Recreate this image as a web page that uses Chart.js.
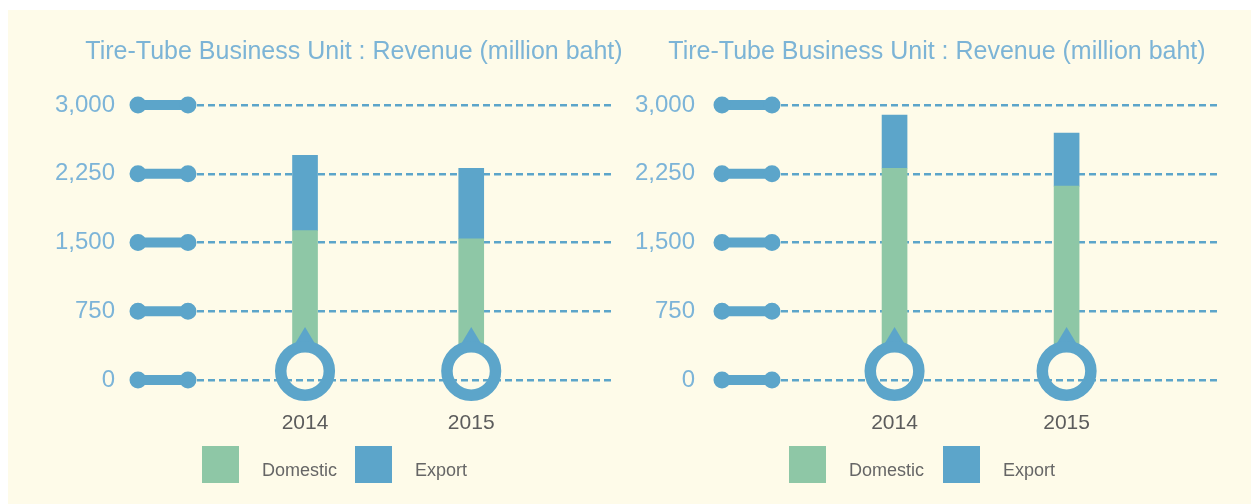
<!DOCTYPE html>
<html>
<head>
<meta charset="utf-8">
<script src="https://cdn.jsdelivr.net/npm/chart.js@4/dist/chart.umd.min.js"></script>
<style>
  body { margin: 0; background: #ffffff; width: 1251px; height: 504px; overflow: hidden; position: relative; }
  #panel { position: absolute; left: 8px; top: 10px; right: 0; bottom: 0; background: #fefbe9; }
  canvas { position: absolute; top: 0; }
  #left-chart { left: 0; }
  #right-chart { left: 630px; }
</style>
</head>
<body>
<div id="panel"></div>
<canvas id="left-chart" width="630" height="504"></canvas>
<canvas id="right-chart" width="621" height="504"></canvas>
<script>
//chart data
const titleText = 'Tire-Tube Business Unit : Revenue (million baht)';
const years = [2014, 2015];
const yTicks = [0, 750, 1500, 2250, 3000];
const seriesNames = ['Domestic', 'Export'];

//left chart values (million baht)
const leftDomestic = [1630, 1540];
const leftExport = [820, 770];

//right chart values (million baht)
const rightDomestic = [2310, 2115];
const rightExport = [580, 580];

//colours
const GREEN = '#8ec7a6';
const BLUE = '#5ca5ca';
const FONT = '"Liberation Sans", Arial, sans-serif';

//title drawn at a fixed centre, the built-in one centres on the whole box
const titlePlugin = {
    id: 'topTitle',
    afterDraw(chart) {
        const {ctx} = chart;
        const opts = chart.options.plugins.topTitle;
        ctx.save();
        ctx.fillStyle = '#7cb4d6';
        ctx.font = '25px ' + FONT;
        ctx.textAlign = 'center';
        ctx.textBaseline = 'middle';
        ctx.fillText(opts.text, opts.x, 52);
        ctx.restore();
    },
};

//the little "pill" shapes next to each y tick
const pillPlugin = {
    id: 'pills',
    beforeDatasetsDraw(chart) {
        const {ctx, chartArea, scales} = chart;
        const yScale = scales.y;
        ctx.save();
        ctx.fillStyle = BLUE;
        yScale.ticks.forEach((t) => {
            const y = yScale.getPixelForValue(t.value);
            const x1 = chartArea.left - 59;
            const x2 = chartArea.left - 9;
            ctx.fillRect(x1, y - 5, x2 - x1, 10);
            ctx.beginPath();
            ctx.arc(x1, y, 8.5, 0, Math.PI * 2);
            ctx.arc(x2, y, 8.5, 0, Math.PI * 2);
            ctx.fill();
        });
        ctx.restore();
    },
};

//the thermometer bulb (ring + little arrow) at the bottom of every bar
const bulbPlugin = {
    id: 'bulbs',
    afterDatasetsDraw(chart) {
        const {ctx, scales} = chart;
        const y0 = scales.y.getPixelForValue(0);
        const meta = chart.getDatasetMeta(0);
        ctx.save();
        meta.data.forEach((bar) => {
            const x = bar.x;
            const cy = y0 - 9;
            ctx.fillStyle = BLUE;
            ctx.beginPath();
            ctx.moveTo(x, y0 - 53);
            ctx.lineTo(x + 12, y0 - 33);
            ctx.lineTo(x - 12, y0 - 33);
            ctx.closePath();
            ctx.fill();
            ctx.strokeStyle = BLUE;
            ctx.lineWidth = 11.5;
            ctx.beginPath();
            ctx.arc(x, cy, 24.3, 0, Math.PI * 2);
            ctx.stroke();
        });
        ctx.restore();
    },
};

//legend with big squares and wide gap to the text
const legendPlugin = {
    id: 'bigLegend',
    afterDraw(chart) {
        const {ctx, chartArea} = chart;
        const offsets = chart.options.plugins.bigLegend.offsets;
        ctx.save();
        chart.data.datasets.forEach((ds, i) => {
            const bx = chartArea.left + offsets[i];
            const by = chartArea.bottom + 66;
            ctx.fillStyle = ds.backgroundColor;
            ctx.fillRect(bx, by, 37, 37);
            ctx.fillStyle = '#666666';
            ctx.font = '18px ' + FONT;
            ctx.textBaseline = 'middle';
            ctx.textAlign = 'left';
            ctx.fillText(ds.label, bx + 60, by + 25);
        });
        ctx.restore();
    },
};

const makeChart = (canvasId, domestic, exportValues, cfg) => {
    const canvas = document.getElementById(canvasId);
    return new Chart(canvas, {
        type: 'bar',
        data: {
            datasets: [
                {
                    label: seriesNames[0],
                    data: years.map((y, i) => ({x: y, y: domestic[i]})),
                    backgroundColor: GREEN,
                    base: 330,
                    barThickness: 25,
                },
                {
                    label: seriesNames[1],
                    data: years.map((y, i) => ({x: y, y: exportValues[i]})),
                    backgroundColor: BLUE,
                    barThickness: 25,
                },
            ],
        },
        options: {
            responsive: false,
            animation: false,
            layout: {
                padding: {left: 0, right: cfg.padRight, top: 105, bottom: 0},
            },
            plugins: {
                legend: {display: false},
                tooltip: {enabled: false},
                title: {display: false},
                topTitle: {text: titleText, x: cfg.titleX},
                bigLegend: {offsets: cfg.legendOffsets},
            },
            scales: {
                x: {
                    type: 'linear',
                    stacked: true,
                    offset: false,
                    min: cfg.xMin,
                    max: cfg.xMax,
                    grid: {display: false, offset: false},
                    border: {display: false},
                    afterBuildTicks: (scale) => {
                        scale.ticks = years.map((v) => ({value: v}));
                    },
                    afterFit: (scale) => {
                        scale.height = 124;
                    },
                    ticks: {
                        color: '#5c5c5c',
                        font: {family: FONT, size: 21},
                        padding: 23,
                        callback: (v) => String(v),
                    },
                },
                y: {
                    stacked: true,
                    min: 0,
                    max: 3000,
                    border: {display: false, dash: [7, 4]},
                    grid: {
                        color: BLUE,
                        lineWidth: 2.5,
                        drawTicks: false,
                    },
                    afterBuildTicks: (scale) => {
                        scale.ticks = yTicks.map((v) => ({value: v}));
                    },
                    afterFit: (scale) => {
                        scale.width = cfg.axisWidth;
                    },
                    ticks: {
                        color: '#7cb4d8',
                        font: {family: FONT, size: 24},
                        padding: cfg.tickPad,
                        callback: (v) => v.toLocaleString('en-US'),
                    },
                },
            },
        },
        plugins: [pillPlugin, bulbPlugin, legendPlugin, titlePlugin],
    });
};

const leftChart = makeChart('left-chart', leftDomestic, leftExport, {
    padRight: 17,
    axisWidth: 197,
    tickPad: 82,
    titleX: 354,
    xMin: 2013.35,
    xMax: 2015.853,
    legendOffsets: [5, 158],
});

const rightChart = makeChart('right-chart', rightDomestic, rightExport, {
    padRight: 33,
    axisWidth: 151,
    tickPad: 86,
    titleX: 307,
    xMin: 2013.34,
    xMax: 2015.88,
    legendOffsets: [8, 162],
});
</script>
</body>
</html>
